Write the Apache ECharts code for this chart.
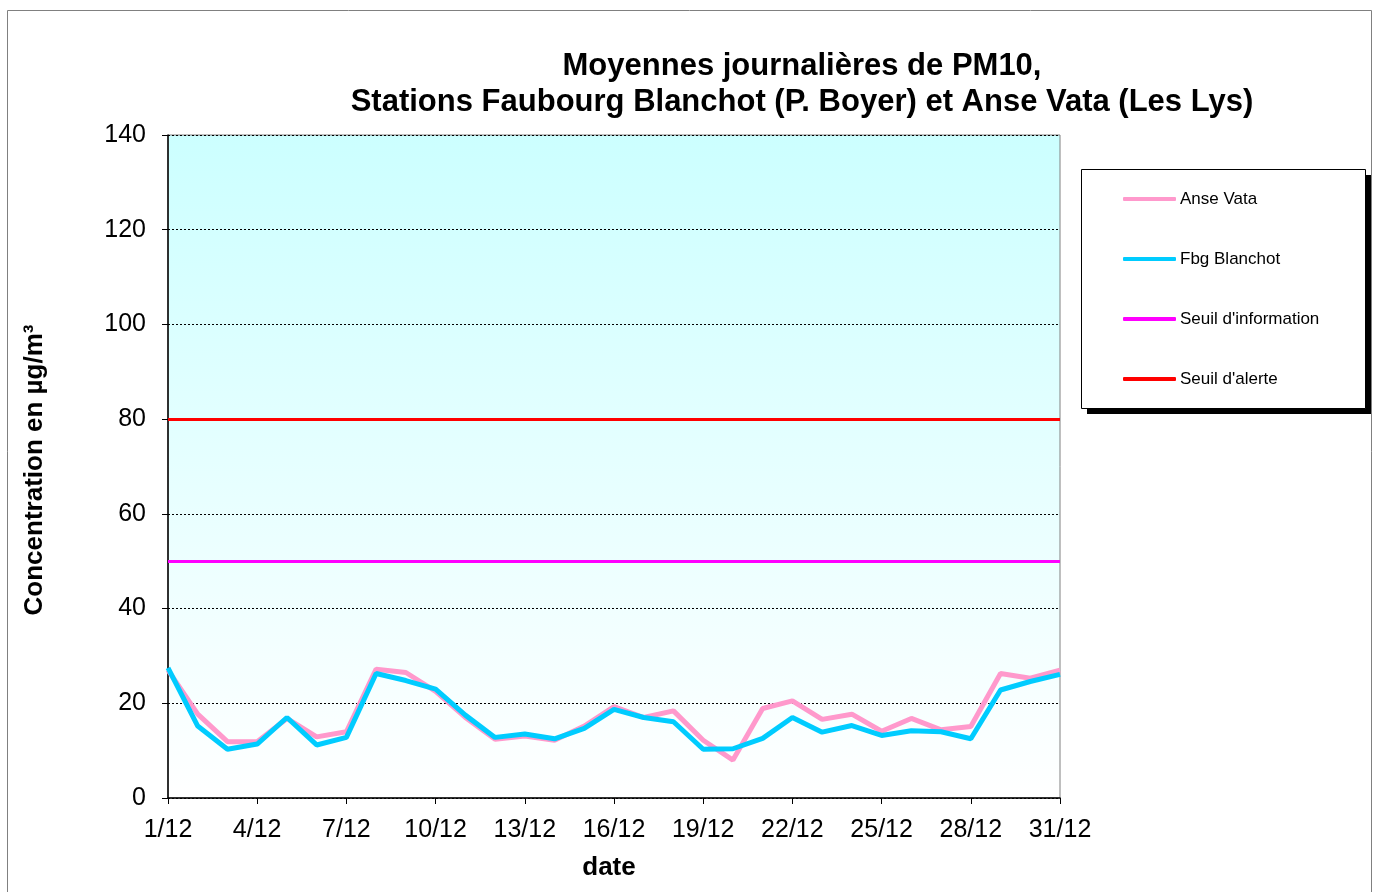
<!DOCTYPE html>
<html>
<head>
<meta charset="utf-8">
<script src="https://cdn.jsdelivr.net/npm/echarts@6/dist/echarts.min.js"></script>
<style>
html,body{margin:0;padding:0;background:#fff;}
#chart{width:1376px;height:892px;}
</style>
</head>
<body>
<div id="chart"></div>
<script>
const dates = ['1/12','2/12','3/12','4/12','5/12','6/12','7/12','8/12','9/12','10/12','11/12','12/12','13/12','14/12','15/12','16/12','17/12','18/12','19/12','20/12','21/12','22/12','23/12','24/12','25/12','26/12','27/12','28/12','29/12','30/12','31/12'];
const anseVata = [27, 17.7, 11.9, 11.9, 16.8, 12.9, 14, 27.2, 26.5, 22.5, 17, 12.4, 13.1, 12.2, 15.2, 19.3, 17, 18.4, 12.2, 8.0, 18.9, 20.5, 16.6, 17.7, 14.1, 16.8, 14.4, 15.1, 26.3, 25.3, 27];
const fbgBlanchot = [27.5, 15.2, 10.3, 11.4, 17, 11.2, 12.8, 26.3, 24.8, 23, 17.5, 12.8, 13.5, 12.5, 14.7, 18.7, 17, 16.1, 10.3, 10.4, 12.6, 17, 13.9, 15.3, 13.2, 14.2, 14.0, 12.5, 22.8, 24.6, 26.1];
const seuilInformation = 50;
const seuilAlerte = 80;
const seriesNames = ['Anse Vata', 'Fbg Blanchot', "Seuil d'information", "Seuil d'alerte"];
const titleLines = ['Moyennes journalières de PM10,', 'Stations Faubourg Blanchot (P. Boyer) et Anse Vata (Les Lys)'];

const FONT = "'Liberation Sans', Arial, sans-serif";
const chart = echarts.init(document.getElementById('chart'));

function thresholdSeries(name, value, color) {
  return {
    name: name, type: 'line', data: [],
    color: color,
    lineStyle: { color: color, width: 3 },
    itemStyle: { color: color },
    markLine: {
      silent: true, symbol: 'none', label: { show: false },
      lineStyle: { color: color, width: 3, type: 'solid' },
      data: [{ yAxis: value }]
    }
  };
}

chart.setOption({
  animation: false,
  backgroundColor: '#fff',
  textStyle: { fontFamily: FONT },
  title: {
    text: titleLines.join('\n'),
    left: 797, top: 43, textAlign: 'center',
    textStyle: { fontFamily: FONT, fontSize: 31, fontWeight: 'bold', color: '#000', lineHeight: 36 }
  },
  grid: {
    left: 168, top: 135, width: 892, height: 663,
    show: true, borderColor: '#808080', borderWidth: 1,
    backgroundColor: { type: 'linear', x: 0, y: 0, x2: 0, y2: 1,
      colorStops: [{ offset: 0, color: '#CCFFFF' }, { offset: 1, color: '#FFFFFF' }] }
  },
  legend: {
    orient: 'vertical', left: 1123, top: 189, padding: 0,
    itemWidth: 53, itemHeight: 4, itemGap: 40,
    icon: 'roundRect',
    data: seriesNames,
    textStyle: { fontFamily: FONT, fontSize: 17, color: '#000', lineHeight: 20, padding: [0,0,0,-1] }
  },
  xAxis: {
    type: 'category', data: dates, boundaryGap: false,
    axisLine: { lineStyle: { color: '#000', width: 1.5 } },
    axisTick: { show: true, interval: 2, length: 6, lineStyle: { color: '#000' } },
    axisLabel: { interval: 2, margin: 20, fontFamily: FONT, fontSize: 25, color: '#000' },
    splitLine: { show: false }
  },
  yAxis: {
    type: 'value', min: 0, max: 140, interval: 20,
    axisLine: { show: true, lineStyle: { color: '#000', width: 1.5 } },
    axisTick: { show: true, length: 6, lineStyle: { color: '#000' } },
    axisLabel: { margin: 22, fontFamily: FONT, fontSize: 25, color: '#000' },
    splitLine: { show: true, lineStyle: { color: '#000', type: [2, 2], width: 1 } }
  },
  graphic: [
    { type: 'rect', silent: true, z: -10,
      shape: { x: 7.5, y: 10.5, width: 1364, height: 900 },
      style: { fill: 'none', stroke: '#808080', lineWidth: 1 } },
    { type: 'rect', silent: true, z: 0,
      shape: { x: 1087, y: 175, width: 284, height: 239 },
      style: { fill: '#000' } },
    { type: 'rect', silent: true, z: 1,
      shape: { x: 1081.5, y: 169.5, width: 284, height: 239 },
      style: { fill: '#fff', stroke: '#000', lineWidth: 1 } },
    { type: 'text', silent: true, z: 5,
      x: 35, y: 470, rotation: Math.PI / 2,
      style: { text: 'Concentration en µg/m³', fontFamily: FONT, fontSize: 26, fontWeight: 'bold',
        fill: '#000', align: 'center', verticalAlign: 'middle' } },
    { type: 'text', silent: true, z: 5,
      x: 609, y: 868,
      style: { text: 'date', fontFamily: FONT, fontSize: 26, fontWeight: 'bold',
        fill: '#000', align: 'center', verticalAlign: 'middle' } }
  ],
  series: [
    { name: seriesNames[0], type: 'line', data: anseVata, symbol: 'none', z: 3,
      color: '#FF99CC', lineStyle: { color: '#FF99CC', width: 5 }, itemStyle: { color: '#FF99CC' } },
    { name: seriesNames[1], type: 'line', data: fbgBlanchot, symbol: 'none', z: 4,
      color: '#00CCFF', lineStyle: { color: '#00CCFF', width: 5 }, itemStyle: { color: '#00CCFF' } },
    thresholdSeries(seriesNames[2], seuilInformation, '#FF00FF'),
    thresholdSeries(seriesNames[3], seuilAlerte, '#FF0000')
  ]
});
</script>
</body>
</html>
